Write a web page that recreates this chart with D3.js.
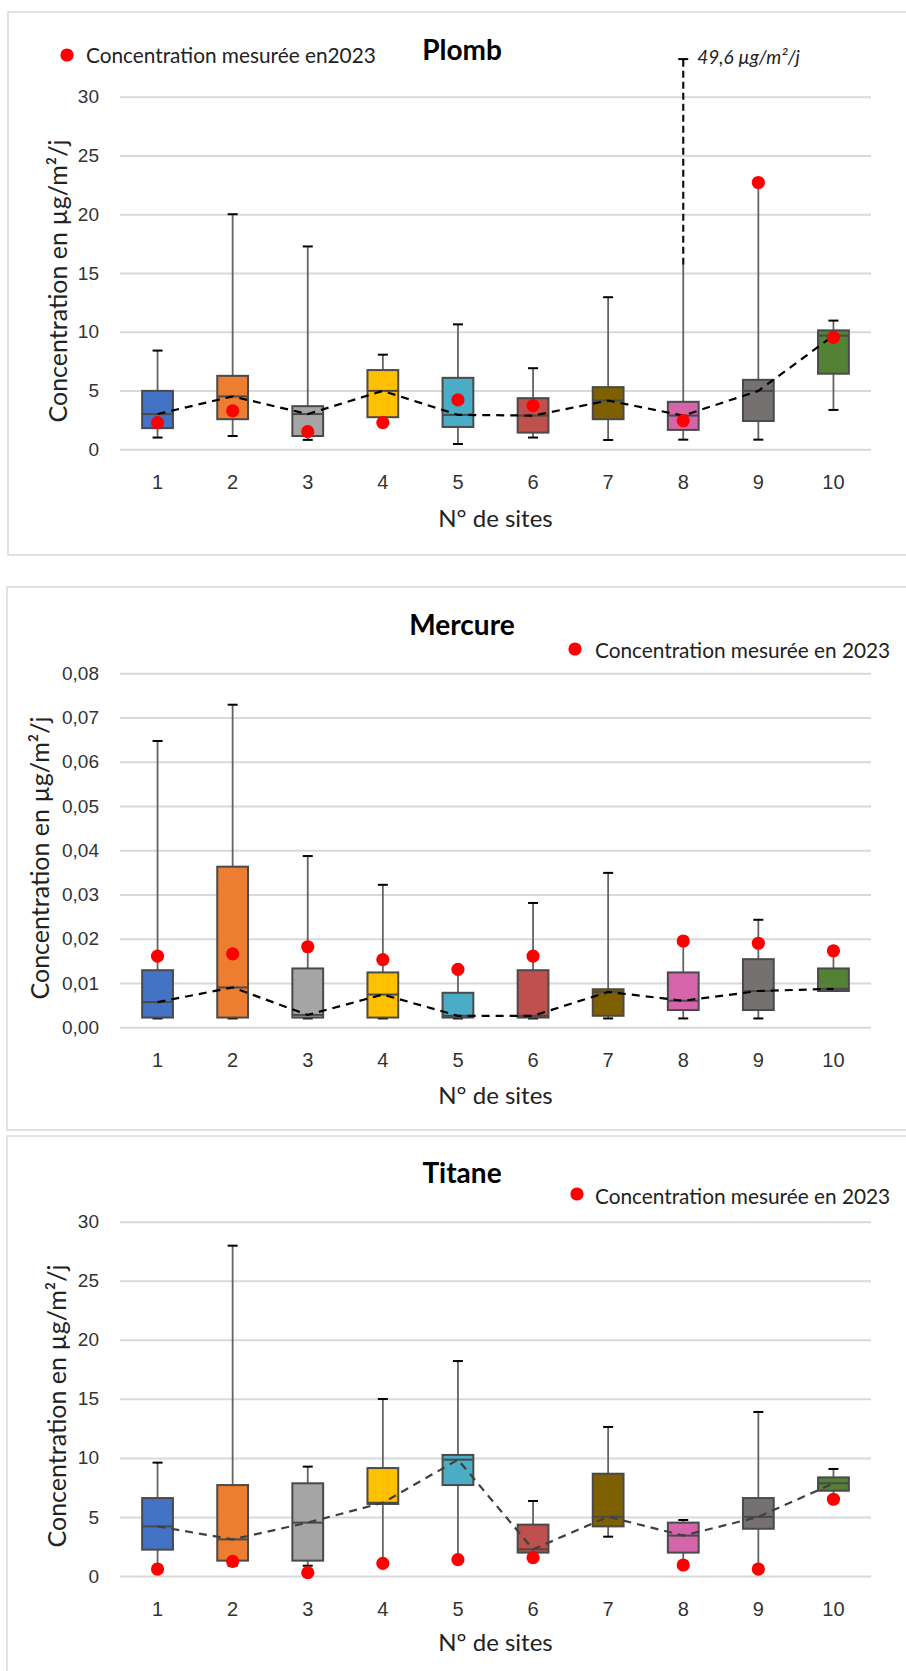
<!DOCTYPE html>
<html>
<head>
<meta charset="utf-8">
<script src="https://cdn.jsdelivr.net/npm/d3@7"></script>
<style>
  body { margin: 0; background: #fff; }
  svg { display: block; font-family: Lato, "Open Sans", sans-serif; }
</style>
</head>
<body>
<svg id="chart" width="906" height="1671"></svg>
<script>
// Sites de mesure
const sites = ["1", "2", "3", "4", "5", "6", "7", "8", "9", "10"];

// Couleurs des boîtes par site
const couleurs = ["#4472C4", "#ED7D31", "#A5A5A5", "#FFC000", "#4BACC6",
                  "#C0504D", "#7F6000", "#D565AB", "#767171", "#548235"];

// Plomb (µg/m²/j)
const plombMin  = [1.0, 1.13, 0.8, 2.1, 0.45, 1.0, 0.79, 0.82, 0.82, 3.35];
const plombQ1   = [1.8, 2.56, 1.13, 2.73, 1.9, 1.42, 2.56, 1.65, 2.41, 6.43];
const plombMed  = [3.0, 4.5, 3.0, 4.97, 2.93, 2.87, 4.15, 2.87, 4.97, 9.67];
const plombQ3   = [4.97, 6.25, 3.67, 6.74, 6.08, 4.35, 5.29, 4.04, 5.91, 10.12];
const plombMax  = [8.4, 20.0, 17.26, 8.05, 10.63, 6.9, 12.94, 49.6, 22.7, 10.95];
const plomb2023 = [2.27, 3.27, 1.5, 2.27, 4.2, 3.72, null, 2.44, 22.7, 9.52];
const plombTicks = [0, 5, 10, 15, 20, 25, 30];
// moustache coupée du site 8 : trait plein jusqu'à 15,7, pointillé jusqu'à 33,2
const plombCoupure = [15.7, 33.2];

// Mercure (µg/m²/j)
const mercureMin  = [0.002, 0.002, 0.002, 0.002, 0.002, 0.002, 0.002, 0.002, 0.002, 0.0082];
const mercureQ1   = [0.0022, 0.0022, 0.0022, 0.0022, 0.0022, 0.0022, 0.0026, 0.0039, 0.0039, 0.0082];
const mercureMed  = [0.0057, 0.009, 0.0028, 0.0074, 0.0026, 0.0026, 0.008, 0.006, 0.0082, 0.0087];
const mercureQ3   = [0.0129, 0.0363, 0.0133, 0.0124, 0.0078, 0.0129, 0.0086, 0.0124, 0.0154, 0.0133];
const mercureMax  = [0.0647, 0.0729, 0.0387, 0.0322, 0.0131, 0.0281, 0.0349, 0.0195, 0.0243, 0.0173];
const mercure2023 = [0.0161, 0.0166, 0.0182, 0.0153, 0.0131, 0.0161, null, 0.0195, 0.019, 0.0173];
const mercureTicks = [0, 0.01, 0.02, 0.03, 0.04, 0.05, 0.06, 0.07, 0.08];

// Titane (µg/m²/j)
const titaneMin  = [0.8, 0.87, 0.87, 1.07, 1.38, 1.55, 3.33, 0.93, 0.59, 6.5];
const titaneQ1   = [2.23, 1.3, 1.3, 6.1, 7.7, 1.98, 4.2, 1.98, 4.0, 7.22];
const titaneMed  = [4.2, 3.1, 4.52, 6.2, 9.85, 2.26, 5.02, 3.42, 5.0, 7.85];
const titaneQ3   = [6.6, 7.7, 7.85, 9.14, 10.25, 4.35, 8.66, 4.52, 6.6, 8.35];
const titaneMax  = [9.6, 27.97, 9.26, 14.99, 18.2, 6.35, 12.62, 4.74, 13.89, 9.06];
const titane2023 = [0.59, 1.24, 0.28, 1.07, 1.38, 1.55, null, 0.93, 0.59, 6.5];
const titaneTicks = [0, 5, 10, 15, 20, 25, 30];

const svg = d3.select("#chart");

function dessinePanneau(p) {
  const g = svg.append("g");

  // cadre du graphique
  g.append("rect")
    .attr("x", p.cadre[0]).attr("y", p.cadre[1])
    .attr("width", 906 - p.cadre[0] + 10).attr("height", p.cadre[2])
    .attr("fill", "none").attr("stroke", "#d9d9d9").attr("stroke-width", 1.5);

  const x = d3.scaleBand()
    .domain(sites)
    .range([120, 871])
    .paddingInner(0.59)
    .paddingOuter(0.295);

  const y = d3.scaleLinear()
    .domain([0, p.ticks[p.ticks.length - 1]])
    .range([p.bas, p.haut]);

  const cx = s => x(s) + x.bandwidth() / 2;

  // axe Y + quadrillage
  const axeY = g.append("g")
    .attr("transform", "translate(120,0)")
    .call(d3.axisLeft(y).tickValues(p.ticks).tickSize(-751).tickPadding(21).tickFormat(p.format));
  axeY.select(".domain").remove();
  axeY.selectAll(".tick line").attr("stroke", "#d9d9d9").attr("stroke-width", 2);
  axeY.selectAll(".tick text").attr("fill", "#333").style("font-size", "19px");

  // axe X
  const axeX = g.append("g")
    .attr("transform", `translate(0,${p.bas})`)
    .call(d3.axisBottom(x).tickSize(0).tickPadding(26));
  axeX.select(".domain").remove();
  axeX.selectAll(".tick text").attr("fill", "#333").style("font-size", "20px");

  const data = sites.map((s, i) => ({
    site: s, min: p.min[i], q1: p.q1[i], med: p.med[i], q3: p.q3[i],
    max: p.max[i], mesure: p.mesure[i], couleur: couleurs[i]
  }));
  const yMax = y.domain()[1];

  // moustaches
  data.forEach(d => {
    const haut = d.max > yMax && p.coupure ? p.coupure[0] : d.max;
    g.append("line")
      .attr("x1", cx(d.site)).attr("x2", cx(d.site))
      .attr("y1", y(d.min)).attr("y2", y(haut))
      .attr("stroke", "#636363").attr("stroke-width", 1.8);

    let capHaut = d.max;
    if (d.max > yMax && p.coupure) {
      capHaut = p.coupure[1];
      g.append("line")
        .attr("x1", cx(d.site)).attr("x2", cx(d.site))
        .attr("y1", y(p.coupure[0])).attr("y2", y(capHaut))
        .attr("stroke", "#111").attr("stroke-width", 2.2)
        .attr("stroke-dasharray", "7,4");
      g.append("text")
        .attr("x", cx(d.site) + 14).attr("y", y(capHaut) + 4.5)
        .style("font-size", "19px").style("font-style", "italic").attr("fill", "#222")
        .text(String(d.max).replace(".", ",") + " µg/m²/j");
    }
    [d.min, capHaut].forEach(v => {
      g.append("line")
        .attr("x1", cx(d.site) - 5).attr("x2", cx(d.site) + 5)
        .attr("y1", y(v)).attr("y2", y(v))
        .attr("stroke", "#000").attr("stroke-width", 2);
    });
  });

  // boîtes
  g.selectAll(".boite")
    .data(data)
    .enter().append("rect")
    .attr("x", d => x(d.site))
    .attr("y", d => y(d.q3))
    .attr("width", x.bandwidth())
    .attr("height", d => y(d.q1) - y(d.q3))
    .attr("fill", d => d.couleur)
    .attr("stroke", "#4a4a4a")
    .attr("stroke-width", 2);

  // médianes
  g.selectAll(".mediane")
    .data(data)
    .enter().append("line")
    .attr("x1", d => x(d.site)).attr("x2", d => x(d.site) + x.bandwidth())
    .attr("y1", d => y(d.med)).attr("y2", d => y(d.med))
    .attr("stroke", "#4a4a4a").attr("stroke-width", 2);

  // ligne pointillée reliant les médianes
  g.append("path")
    .datum(data)
    .attr("d", d3.line().x(d => cx(d.site)).y(d => y(d.med)))
    .attr("fill", "none")
    .attr("stroke", p.couleurLigne)
    .attr("stroke-width", 2.2)
    .attr("stroke-dasharray", "8,6");

  // mesures 2023
  g.selectAll(".mesure")
    .data(data.filter(d => d.mesure !== null))
    .enter().append("circle")
    .attr("cx", d => cx(d.site))
    .attr("cy", d => y(d.mesure))
    .attr("r", 6.6)
    .attr("fill", "#ff0000");

  // titre
  g.append("text")
    .attr("x", 462).attr("y", p.titreY)
    .attr("text-anchor", "middle")
    .style("font-size", "28px").style("font-weight", "bold").attr("fill", "#000")
    .text(p.titre);

  // légende
  g.append("circle")
    .attr("cx", p.legende[0]).attr("cy", p.legende[1]).attr("r", 6.6).attr("fill", "#ff0000");
  g.append("text")
    .attr("x", p.legende[2]).attr("y", p.legende[3])
    .style("font-size", "20.8px").attr("fill", "#222")
    .text(p.legendeTexte);

  // titre axe Y
  g.append("text")
    .attr("transform", `translate(${p.titreAxeY[0]},${p.titreAxeY[1]}) rotate(-90)`)
    .attr("text-anchor", "middle")
    .style("font-size", "25px").attr("fill", "#222")
    .text("Concentration en µg/m²/j");

  // titre axe X
  g.append("text")
    .attr("x", 495.5).attr("y", p.titreAxeX)
    .attr("text-anchor", "middle")
    .style("font-size", "24px").attr("fill", "#222")
    .text("N° de sites");
}

const formatEntier = d => String(d);
const formatMercure = d => d3.format(".2f")(d).replace(".", ",");

dessinePanneau({
  titre: "Plomb", cadre: [8, 12, 543], haut: 96.7, bas: 449.3,
  ticks: plombTicks, format: formatEntier,
  min: plombMin, q1: plombQ1, med: plombMed, q3: plombQ3, max: plombMax, mesure: plomb2023,
  coupure: plombCoupure, couleurLigne: "#000",
  titreY: 60, legende: [67, 55, 86, 63], legendeTexte: "Concentration mesurée en2023",
  titreAxeY: [67, 281], titreAxeX: 527
});

dessinePanneau({
  titre: "Mercure", cadre: [7, 587, 543], haut: 673.3, bas: 1027.3,
  ticks: mercureTicks, format: formatMercure,
  min: mercureMin, q1: mercureQ1, med: mercureMed, q3: mercureQ3, max: mercureMax, mesure: mercure2023,
  coupure: null, couleurLigne: "#000",
  titreY: 635, legende: [575, 649, 595, 658], legendeTexte: "Concentration mesurée en 2023",
  titreAxeY: [49, 858], titreAxeX: 1104
});

dessinePanneau({
  titre: "Titane", cadre: [7, 1136, 600], haut: 1221.7, bas: 1576,
  ticks: titaneTicks, format: formatEntier,
  min: titaneMin, q1: titaneQ1, med: titaneMed, q3: titaneQ3, max: titaneMax, mesure: titane2023,
  coupure: null, couleurLigne: "#404040",
  titreY: 1183, legende: [577, 1194, 595, 1204], legendeTexte: "Concentration mesurée en 2023",
  titreAxeY: [66, 1406], titreAxeX: 1651
});
</script>
</body>
</html>
